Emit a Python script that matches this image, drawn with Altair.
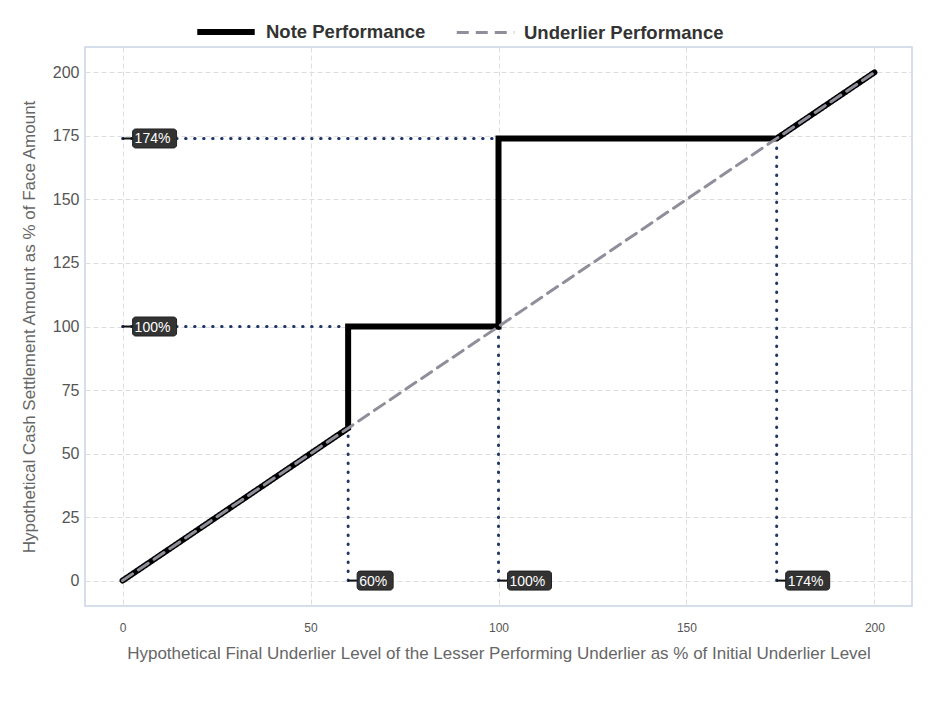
import altair as alt
import pandas as pd

# Note performance path (x = final underlier level %, y = settlement %)
note_x = [0, 60, 60, 100, 100, 174, 200]
note_y = [0, 60, 100, 100, 174, 174, 200]
# Underlier performance (1:1)
und_x = [0, 200]
und_y = [0, 200]

# Reference (dotted) lines
hdot_y = [174, 100]
hdot_x_end = [174, 60]
vdot_x = [60, 100, 174]
vdot_y_end = [60, 100, 174]

# Labels
ylab_vals = [174, 100]
ylab_text = ["174%", "100%"]
xlab_vals = [60, 100, 174]
xlab_text = ["60%", "100%", "174%"]

FONT = "Liberation Sans"
XDOM = [-10, 210]
YDOM = [-10, 210]
SERIES = ["Note Performance", "Underlier Performance"]

rows = []
for i, (x, y) in enumerate(zip(note_x, note_y)):
    rows.append({"x": x, "y": y, "series": SERIES[0], "o": i})
for i, (x, y) in enumerate(zip(und_x, und_y)):
    rows.append({"x": x, "y": y, "series": SERIES[1], "o": i})
lines_df = pd.DataFrame(rows)

xs = alt.Scale(domain=XDOM, nice=False, zero=False)
ys = alt.Scale(domain=YDOM, nice=False, zero=False)

XT = "Hypothetical Final Underlier Level of the Lesser Performing Underlier as % of Initial Underlier Level"
YT = "Hypothetical Cash Settlement Amount as % of Face Amount"

xaxis = alt.Axis(values=[0, 50, 100, 150, 200], title=XT, labelFontSize=12,
                 labelPadding=16, titlePadding=12, titleFontSize=17)
yaxis = alt.Axis(values=[0, 25, 50, 75, 100, 125, 150, 175, 200], title=YT,
                 labelFontSize=16, labelPadding=6, titlePadding=14, titleFontSize=17)

DOT = "#1f3566"

hdf = pd.DataFrame({"y": hdot_y, "x0": [0] * len(hdot_y), "x1": hdot_x_end})
vdf = pd.DataFrame({"x": vdot_x, "y0": [0] * len(vdot_x), "y1": vdot_y_end})

hdots = alt.Chart(hdf).mark_rule(color=DOT, strokeWidth=3, strokeDash=[0.5, 8.5], strokeCap="round").encode(
    x=alt.X("x0:Q", scale=xs, axis=xaxis), x2="x1", y=alt.Y("y:Q", scale=ys, axis=yaxis))
vdots = alt.Chart(vdf).mark_rule(color=DOT, strokeWidth=3, strokeDash=[0.5, 8.5], strokeCap="round").encode(
    x=alt.X("x:Q", scale=xs), y=alt.Y("y0:Q", scale=ys), y2="y1")

leg = alt.Legend(title=None, orient="none", legendX=109, legendY=-47, direction="horizontal")
lines = alt.Chart(lines_df).mark_line(strokeCap="round", strokeJoin="miter").encode(
    x=alt.X("x:Q", scale=xs),
    y=alt.Y("y:Q", scale=ys),
    order="o:Q",
    color=alt.Color("series:N", scale=alt.Scale(domain=SERIES, range=["#000000", "#8f8f9c"]), legend=leg),
    strokeDash=alt.StrokeDash("series:N", scale=alt.Scale(domain=SERIES, range=[[1, 0], [12, 7]]), legend=leg),
    strokeWidth=alt.StrokeWidth("series:N", scale=alt.Scale(domain=SERIES, range=[6, 3]), legend=leg),
)

ylab = pd.DataFrame({"v": ylab_vals, "t": ylab_text, "z": [0] * len(ylab_vals)})
xlab = pd.DataFrame({"v": xlab_vals, "t": xlab_text, "z": [0] * len(xlab_vals)})
ylab["n"] = ylab["t"].str.len()
xlab["n"] = xlab["t"].str.len()

# leader lines
ylead = alt.Chart(ylab).mark_rule(color="#111", strokeWidth=2, x2Offset=11).encode(
    x=alt.X("z:Q", scale=xs), x2="z:Q", y=alt.Y("v:Q", scale=ys))
xlead = alt.Chart(xlab).mark_rule(color="#111", strokeWidth=2, x2Offset=10).encode(
    x=alt.X("v:Q", scale=xs), x2="v:Q", y=alt.Y("z:Q", scale=ys))

def boxes(df, xf, yf, off):
    out = []
    for n, w in [(3, 36), (4, 44)]:
        out.append(alt.Chart(df).transform_filter(f"datum.n == {n}").mark_rect(
            width=w, height=19, cornerRadius=3, color="#333333", stroke="#222", strokeWidth=1,
            xOffset=off + w / 2).encode(x=alt.X(xf, scale=xs), y=alt.Y(yf, scale=ys)))
    return out

ybox = boxes(ylab, "z:Q", "v:Q", 10)
xbox = boxes(xlab, "v:Q", "z:Q", 9)

ytext = alt.Chart(ylab).mark_text(align="left", baseline="middle", dx=12, dy=1, color="white",
                                  fontSize=14, font=FONT).encode(
    x=alt.X("z:Q", scale=xs), y=alt.Y("v:Q", scale=ys), text="t:N")
xtext = alt.Chart(xlab).mark_text(align="left", baseline="middle", dx=11, dy=1, color="white",
                                  fontSize=14, font=FONT).encode(
    x=alt.X("v:Q", scale=xs), y=alt.Y("z:Q", scale=ys), text="t:N")

chart = alt.layer(hdots, vdots, lines, ylead, xlead, *ybox, *xbox, ytext, xtext).properties(
    width=827, height=559,
    autosize=alt.AutoSizeParams(type="none"),
    padding={"left": 85, "top": 47, "right": 26, "bottom": 97},
    background="white",
).configure_view(stroke="#c8d3e3", strokeWidth=1.5).configure_axis(
    domain=False, ticks=False, labelColor="#555555", titleColor="#666666",
    labelFont=FONT, titleFont=FONT, titleFontWeight="normal",
    gridColor="#dddddd", gridDash=[5, 3], gridWidth=1,
).configure_legend(
    labelFont=FONT, labelFontSize=18.5, labelFontWeight="bold", labelColor="#333333",
    symbolSize=3300, symbolType="stroke", labelOffset=8, columnPadding=24, labelLimit=400,
)

chart.save("out.html", embed_options={"renderer": "svg", "actions": False})
